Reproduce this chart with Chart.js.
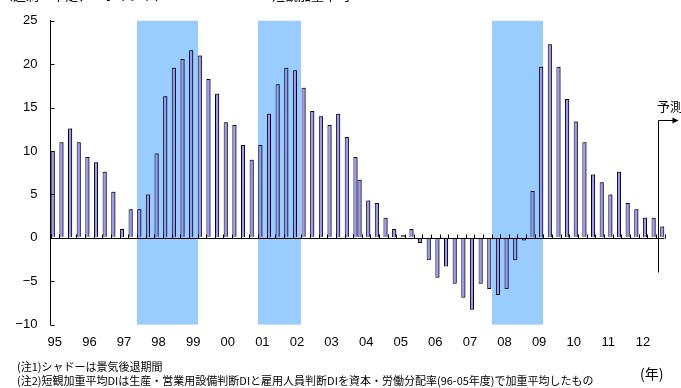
<!DOCTYPE html>
<html lang="ja">
<head>
<meta charset="utf-8">
<script src="https://cdn.jsdelivr.net/npm/chart.js@4/dist/chart.umd.min.js"></script>
<style>
  html, body { margin: 0; padding: 0; background: #fff; }
  #wrap { position: relative; width: 681px; height: 388px; overflow: hidden;
          font-family: "Noto Sans CJK JP", sans-serif; color: #000; }
  #wrap canvas { position: absolute; left: 0; top: 0; }
  .t { position: absolute; white-space: nowrap; line-height: 1; }
</style>
</head>
<body>
<div id="wrap">
  <canvas id="c" width="681" height="388"></canvas>
  <div class="t" style="left:0px; top:-12px; font-size:13px;">（過剰－不足、%ポイント）</div>
  <div class="t" style="left:272px; top:-12px; font-size:13px;">短観加重平均DI</div>
  <div class="t" style="left:657px; top:99px; font-size:13px;">予測</div>
  <div class="t" style="left:17px; top:361px; font-size:11px;">(注1)シャドーは景気後退期間</div>
  <div class="t" style="left:17px; top:375px; font-size:11px;">(注2)短観加重平均DIは生産・営業用設備判断DIと雇用人員判断DIを資本・労働分配率(96-05年度)で加重平均したもの</div>
  <div class="t" style="left:640px; top:366px; font-size:14px;">(年)</div>
</div>
<script>
// Quarterly categories, 1995Q1 - 2012Q3 (last quarter is the forecast)
const quarters = [
  '95Q1','95Q2','95Q3','95Q4','96Q1','96Q2','96Q3','96Q4',
  '97Q1','97Q2','97Q3','97Q4','98Q1','98Q2','98Q3','98Q4',
  '99Q1','99Q2','99Q3','99Q4','00Q1','00Q2','00Q3','00Q4',
  '01Q1','01Q2','01Q3','01Q4','02Q1','02Q2','02Q3','02Q4',
  '03Q1','03Q2','03Q3','03Q4','04Q1','04Q2','04Q3','04Q4',
  '05Q1','05Q2','05Q3','05Q4','06Q1','06Q2','06Q3','06Q4',
  '07Q1','07Q2','07Q3','07Q4','08Q1','08Q2','08Q3','08Q4',
  '09Q1','09Q2','09Q3','09Q4','10Q1','10Q2','10Q3','10Q4',
  '11Q1','11Q2','11Q3','11Q4','12Q1','12Q2','12Q3'
];

// Year tick labels, one per Q1
const yearLabels = ['95','96','97','98','99','00','01','02','03','04',
                    '05','06','07','08','09','10','11','12'];

// Weighted Tankan DI, old survey basis (95Q1 - 03Q4)
const oldBasis = [
  10.0, 11.0, 12.6, 11.0,
   9.3,  8.7,  7.6,  5.3,
   1.0,  3.3,  3.3,  5.0,
   9.7, 16.3, 19.6, 20.6,
  21.6, 21.0, 18.3, 16.6,
  13.3, 13.0, 10.7,  9.0,
  10.7, 14.3, 17.7, 19.6,
  19.3, 17.3, 14.6, 14.0,
  13.0, 14.3, 11.6,  9.3
];

// Weighted Tankan DI, new survey basis (03Q4 - 12Q3)
const newBasisStart = '03Q4';
const newBasis = [
   6.7,
   4.3,  4.0,  2.3,  1.0,
   0.3,  1.0, -0.6, -2.6,
  -4.6, -3.3, -5.3, -6.9,
  -8.3, -5.3, -5.9, -6.6,
  -5.9, -2.6, -0.3,  5.4,
  19.7, 22.3, 19.7, 16.0,
  13.4, 11.0,  7.3,  6.4,
   5.0,  7.6,  4.0,  3.3,
   2.3,  2.3,  1.3
];

// Recession periods (shaded)
const recessionStart = ['97Q3', '01Q1', '07Q4'];
const recessionEnd   = ['99Q1', '02Q1', '09Q1'];

// First forecast quarter
const forecastFrom = '12Q3';

const newStartIdx = quarters.indexOf(newBasisStart);
const oldData = quarters.map((q, i) => i < oldBasis.length ? oldBasis[i] : null);
const newData = quarters.map((q, i) => i >= newStartIdx ? newBasis[i - newStartIdx] : null);

const BAR_FILL = '#9999FF';
const SHADE = '#99CCFF';

const decor = {
  id: 'decor',
  beforeDatasetsDraw(chart) {
    const { ctx, chartArea: a, scales: { x } } = chart;
    const half = (x.getPixelForValue(1) - x.getPixelForValue(0)) / 2;
    ctx.save();
    ctx.fillStyle = SHADE;
    recessionStart.forEach((s, k) => {
      const x0 = x.getPixelForValue(quarters.indexOf(s)) - half;
      const x1 = x.getPixelForValue(quarters.indexOf(recessionEnd[k])) + half;
      ctx.fillRect(Math.round(x0), a.top, Math.round(x1) - Math.round(x0), a.bottom - a.top);
    });
    ctx.restore();
    // soft drop shadow on the bars
    ctx.save();
    ctx.shadowColor = 'rgba(0,0,0,0.45)';
    ctx.shadowOffsetX = 1.5;
    ctx.shadowOffsetY = -1;
    ctx.shadowBlur = 1;
  },
  afterDatasetsDraw(chart) {
    const { ctx, chartArea: a, scales: { x, y } } = chart;
    ctx.restore();
    const half = (x.getPixelForValue(1) - x.getPixelForValue(0)) / 2;
    const y0 = Math.round(y.getPixelForValue(0)) + 0.5;
    ctx.save();
    ctx.strokeStyle = '#000';
    ctx.lineWidth = 1;
    // zero line
    ctx.beginPath();
    ctx.moveTo(a.left, y0);
    ctx.lineTo(a.right, y0);
    ctx.stroke();
    // category tick marks pointing up from the zero line
    ctx.beginPath();
    for (let i = 0; i <= quarters.length; i++) {
      const xb = Math.round(x.getPixelForValue(i) - half) + 0.5;
      ctx.moveTo(xb, y0);
      ctx.lineTo(xb, y0 - 4);
    }
    ctx.stroke();
    // inward value ticks on the y axis
    ctx.beginPath();
    y.ticks.forEach(t => {
      const yy = Math.round(y.getPixelForValue(t.value)) + 0.5;
      ctx.moveTo(a.left, yy);
      ctx.lineTo(a.left + 4, yy);
    });
    ctx.stroke();
    // forecast marker: vertical line with arrow
    const fi = quarters.indexOf(forecastFrom);
    const vx = Math.round(x.getPixelForValue(fi) - half / 2) + 0.5;
    const yTop = Math.round(y.getPixelForValue(13.6)) + 0.5;
    const yBot = y.getPixelForValue(-4.0);
    ctx.beginPath();
    ctx.moveTo(vx, yBot);
    ctx.lineTo(vx, yTop);
    ctx.lineTo(vx + 15, yTop);
    ctx.stroke();
    ctx.fillStyle = '#000';
    ctx.beginPath();
    ctx.moveTo(vx + 14, yTop - 3);
    ctx.lineTo(vx + 20, yTop);
    ctx.lineTo(vx + 14, yTop + 3);
    ctx.closePath();
    ctx.fill();
    ctx.restore();
  }
};

const barStyle = {
  backgroundColor: BAR_FILL,
  borderColor: '#000',
  borderWidth: 1,
  categoryPercentage: 0.95,
  barPercentage: 1.0
};

new Chart(document.getElementById('c'), {
  type: 'bar',
  data: {
    labels: quarters,
    datasets: [
      Object.assign({ label: '旧ベース', data: oldData }, barStyle),
      Object.assign({ label: '新ベース', data: newData }, barStyle)
    ]
  },
  options: {
    responsive: false,
    animation: false,
    devicePixelRatio: 1,
    layout: { padding: { top: 18, right: 16.5, left: 0, bottom: 0 } },
    plugins: { legend: { display: false }, tooltip: { enabled: false } },
    scales: {
      x: {
        grid: { display: false, drawTicks: false },
        border: { display: false },
        ticks: {
          autoSkip: false, maxRotation: 0, minRotation: 0, padding: 10,
          color: '#000',
          font: { family: 'Liberation Sans', size: 13 },
          callback: (v, i) => (i % 4 === 0 ? yearLabels[i / 4] : '')
        },
        afterFit(s) { s.height = 63.4; }
      },
      y: {
        min: -10, max: 25,
        ticks: {
          stepSize: 5, padding: 13, color: '#000',
          font: { family: 'Liberation Sans', size: 13 },
          callback: v => (v < 0 ? '\u2212' + Math.abs(v) : String(v))
        },
        grid: { drawOnChartArea: false, drawTicks: false },
        border: { display: true, color: '#000', width: 1 },
        afterFit(s) { s.width = 50.5; }
      }
    }
  },
  plugins: [decor]
});
</script>
</body>
</html>
